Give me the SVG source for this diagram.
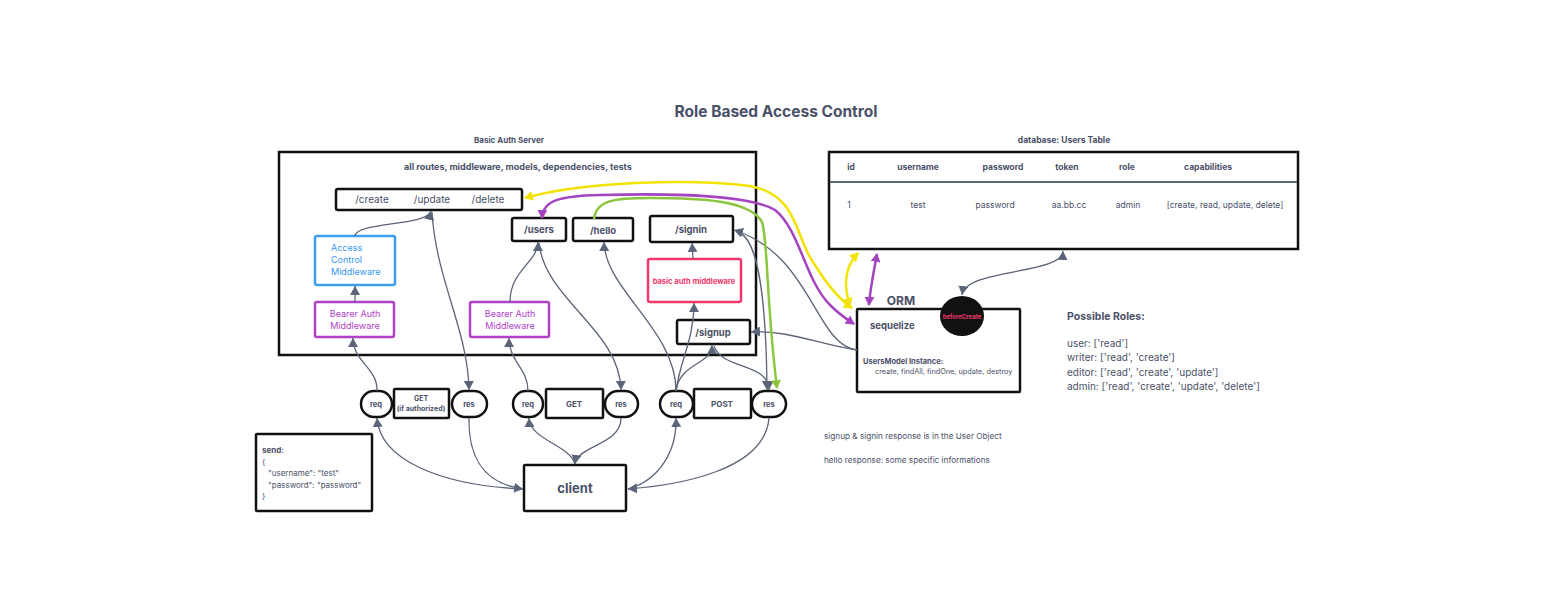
<svg xmlns="http://www.w3.org/2000/svg" width="1555" height="611" viewBox="0 0 1555 611">
<defs>
<style>
text{font-family:Inter,"Noto Sans","Liberation Sans",sans-serif;fill:#4a5068}
.b{font-weight:700}
.box{fill:#fff;stroke:#111;stroke-width:2.5}
.c{fill:none;stroke:#5b6478;stroke-width:1.3}
.m{text-anchor:middle}
</style>
<marker id="ag" markerWidth="10" markerHeight="10" refX="9" refY="5" orient="auto-start-reverse" markerUnits="userSpaceOnUse"><path d="M0,0 L9,5 L0,10 z" fill="#5b6478"/></marker>
<marker id="ay" markerWidth="10" markerHeight="10" refX="8" refY="5" orient="auto-start-reverse" markerUnits="userSpaceOnUse"><path d="M0,0 L9,5 L0,10 z" fill="#f2e400"/></marker>
<marker id="ap" markerWidth="10" markerHeight="10" refX="8" refY="5" orient="auto-start-reverse" markerUnits="userSpaceOnUse"><path d="M0,0 L9,5 L0,10 z" fill="#a444c0"/></marker>
<marker id="agr" markerWidth="10" markerHeight="10" refX="8" refY="5" orient="auto-start-reverse" markerUnits="userSpaceOnUse"><path d="M0,0 L9,5 L0,10 z" fill="#8cc63f"/></marker>
</defs>
<rect width="1555" height="611" fill="#fff"/>
<text x="776" y="117" class="b m" font-size="15.5">Role Based Access Control</text>

<g id="server">
<text x="509" y="143" class="b m" font-size="8">Basic Auth Server</text>
<rect x="279" y="152" width="477" height="203" fill="#fff" stroke="#111" stroke-width="2.5"/>
<text x="518" y="170" class="b m" font-size="9">all routes, middleware, models, dependencies, tests</text>
</g>
<g id="crud"><rect class="box" x="336" y="189" width="186" height="21" rx="2"/>
<text x="372" y="203" class="m" font-size="10">/create</text><text x="432" y="203" class="m" font-size="10">/update</text><text x="488" y="203" class="m" font-size="10">/delete</text></g>
<g id="acm"><rect x="315" y="236" width="80" height="49" rx="2" fill="#fff" stroke="#3d9ef0" stroke-width="2.5"/>
<text x="331" y="251" font-size="9" style="fill:#3597f0">Access</text><text x="331" y="263" font-size="9" style="fill:#3597f0">Control</text><text x="331" y="275" font-size="9" style="fill:#3597f0">Middleware</text></g>
<g id="bearer1"><rect x="315" y="302" width="79" height="35" rx="2" fill="#fff" stroke="#b040c8" stroke-width="2.5"/>
<text x="355" y="317" class="m" font-size="9" style="fill:#b040c8">Bearer Auth</text><text x="355" y="329" class="m" font-size="9" style="fill:#b040c8">Middleware</text></g>
<g id="bearer2"><rect x="470" y="302" width="79" height="35" rx="2" fill="#fff" stroke="#b040c8" stroke-width="2.5"/>
<text x="510" y="317" class="m" font-size="9" style="fill:#b040c8">Bearer Auth</text><text x="510" y="329" class="m" font-size="9" style="fill:#b040c8">Middleware</text></g>
<g id="users"><rect class="box" x="512" y="218" width="54" height="23" rx="2"/><text x="539" y="233" class="b m" font-size="9.5">/users</text></g>
<g id="hello"><rect class="box" x="573" y="218" width="60" height="23" rx="2"/><text x="603" y="234" class="b m" font-size="9.5">/hello</text></g>
<g id="signin"><rect class="box" x="650" y="216" width="83" height="26" rx="2"/><text x="691" y="233" class="b m" font-size="9.5">/signin</text></g>
<g id="basicauth"><rect x="648" y="259" width="93" height="43" rx="2" fill="#fff" stroke="#f0386a" stroke-width="2.5"/><text x="694" y="284" class="b m" font-size="7.5" style="fill:#f0386a">basic auth middleware</text></g>
<g id="signup"><rect class="box" x="677" y="320" width="73" height="24" rx="2"/><text x="713" y="336" class="b m" font-size="9.5">/signup</text></g>

<g id="req1"><rect class="box" x="361" y="391" width="31" height="26" rx="13"/><text x="376" y="407" class="b m" font-size="7.5">req</text></g>
<g id="get1"><rect class="box" x="394" y="389" width="55" height="29" rx="1"/><text x="421" y="401" class="b m" font-size="7">GET</text><text x="421" y="411" class="b m" font-size="7">(if authorized)</text></g>
<g id="res1"><rect class="box" x="452" y="391" width="35" height="26" rx="13"/><text x="469" y="407" class="b m" font-size="7.5">res</text></g>
<g id="req2"><rect class="box" x="513" y="391" width="30" height="26" rx="13"/><text x="528" y="407" class="b m" font-size="7.5">req</text></g>
<g id="get2"><rect class="box" x="546" y="389" width="57" height="29" rx="1"/><text x="574" y="407" class="b m" font-size="8">GET</text></g>
<g id="res2"><rect class="box" x="605" y="391" width="33" height="26" rx="13"/><text x="621" y="407" class="b m" font-size="7.5">res</text></g>
<g id="req3"><rect class="box" x="660" y="391" width="33" height="26" rx="13"/><text x="676" y="407" class="b m" font-size="7.5">req</text></g>
<g id="post"><rect class="box" x="694" y="389" width="57" height="29" rx="1"/><text x="722" y="407" class="b m" font-size="8">POST</text></g>
<g id="res3"><rect class="box" x="752" y="391" width="34" height="26" rx="13"/><text x="769" y="407" class="b m" font-size="7.5">res</text></g>
<g id="client"><rect class="box" x="524" y="465" width="102" height="46" rx="1"/><text x="575" y="493" class="b m" font-size="13">client</text></g>
<g id="send"><rect class="box" x="256" y="434" width="116" height="77" rx="1"/>
<text x="262" y="453" class="b" font-size="8">send:</text>
<text x="262" y="465" font-size="8">{</text>
<text x="268" y="476" font-size="8">"username": "test"</text>
<text x="268" y="488" font-size="8">"password": "password"</text>
<text x="262" y="499" font-size="8">}</text></g>

<g id="db">
<text x="1064" y="143" class="b m" font-size="8.5">database: Users Table</text>
<rect x="829" y="152" width="469" height="97" fill="#fff" stroke="#111" stroke-width="2.5"/>
<line x1="830" y1="182" x2="1297" y2="182" stroke="#5b6478" stroke-width="2"/>
<g class="b" font-size="8.5">
<text x="851" y="170" class="b m">id</text><text x="918" y="170" class="b m">username</text><text x="1003" y="170" class="b m">password</text><text x="1067" y="170" class="b m">token</text><text x="1127" y="170" class="b m">role</text><text x="1208" y="170" class="b m">capabilities</text></g>
<g font-size="8.5">
<text x="849" y="208" class="m">1</text><text x="918" y="208" class="m">test</text><text x="995" y="208" class="m">password</text><text x="1069" y="208" class="m">aa.bb.cc</text><text x="1128" y="208" class="m">admin</text><text x="1225" y="208" class="m">[create, read, update, delete]</text></g>
</g>

<g id="orm">
<text x="901" y="305" class="b m" font-size="12">ORM</text>
<rect class="box" x="857" y="309" width="163" height="83" rx="1"/>
<text x="870" y="329" class="b" font-size="9.5">sequelize</text>
<text x="863" y="364" class="b" font-size="7.5">UsersModel Instance:</text>
<text x="875" y="374" font-size="7.3">create, findAll, findOne, update, destroy</text>
</g>
<g id="beforeCreate"><ellipse cx="962" cy="316" rx="22" ry="20" fill="#111"/><text x="962" y="318.5" class="b m" font-size="6" style="fill:#f0386a">beforeCreate</text></g>

<g id="roles" font-size="10">
<text x="1067" y="320" class="b" font-size="10.5">Possible Roles:</text>
<text x="1067" y="347">user: ['read']</text>
<text x="1067" y="361">writer: ['read', 'create']</text>
<text x="1067" y="376">editor: ['read', 'create', 'update']</text>
<text x="1067" y="390">admin: ['read', 'create', 'update', 'delete']</text>
</g>
<g id="notes" font-size="8.2">
<text x="824" y="439">signup &amp; signin response is in the User Object</text>
<text x="824" y="463">hello response: some specific informations</text>
</g>

<g id="connectors">
<path class="c" marker-end="url(#ag)" d="M377,391 C378,368 353,362 353,338"/>
<path class="c" marker-end="url(#ag)" d="M355,302 L355,286"/>
<path class="c" marker-end="url(#ag)" d="M355,236 C355,222 428,226 431,211"/>
<path class="c" marker-end="url(#ag)" d="M432,212 C436,280 468,330 469,390"/>
<path class="c" marker-end="url(#ag)" d="M522,489 C440,485 380,460 377,418"/>
<path class="c" marker-end="url(#ag)" d="M469,418 C468,470 495,485 523,489"/>
<path class="c" marker-end="url(#ag)" d="M528,391 C528,368 509,362 509,338"/>
<path class="c" marker-end="url(#ag)" d="M510,302 C510,270 538,262 538,242"/>
<path class="c" marker-end="url(#ag)" d="M539,243 C545,300 620,330 621,390"/>
<path class="c" marker-end="url(#ag)" d="M575,464 C570,445 530,440 529,418"/>
<path class="c" marker-end="url(#ag)" d="M621,418 C621,445 578,445 575,464"/>
<path class="c" marker-end="url(#ag)" d="M676,391 C676,330 605,290 604,242"/>
<path class="c" marker-end="url(#ag)" d="M676,391 C680,360 694,340 694,303"/>
<path class="c" marker-end="url(#ag)" d="M676,391 C680,362 712,365 712,345"/>
<path class="c" marker-end="url(#ag)" d="M693,259 L692,243"/>
<path class="c" marker-end="url(#ag)" d="M714,346 C722,370 768,362 769,390"/>
<path class="c" marker-end="url(#ag)" d="M737,232 C755,236 766,280 767,390"/>
<path class="c" marker-end="url(#ag)" d="M857,350 C815,345 812,255 734,230"/>
<path class="c" marker-end="url(#ag)" d="M857,350 C820,345 790,330 751,332"/>
<path class="c" marker-end="url(#ag)" d="M628,489 C660,480 677,450 676,418"/>
<path class="c" marker-end="url(#ag)" d="M769,418 C765,470 680,485 628,489"/>
<path class="c" marker-start="url(#ag)" marker-end="url(#ag)" d="M1063,251 C1062,275 966,268 962,295"/>
<path fill="none" stroke="#f2e400" stroke-width="2.5" marker-start="url(#ay)" marker-end="url(#ay)" d="M525,198 C580,182 690,178 750,186 C800,195 795,240 815,265 C825,282 840,300 852,308"/>
<path fill="none" stroke="#a444c0" stroke-width="2.5" marker-start="url(#ap)" marker-end="url(#ap)" d="M542,218 C543,200 560,196 600,195 C680,193 750,195 775,210 C800,230 805,280 830,305 C840,315 848,320 854,324"/>
<path fill="none" stroke="#8cc63f" stroke-width="2.5" marker-end="url(#agr)" d="M594,219 C596,200 615,198 650,198 C700,198 750,200 762,222 C768,240 766,300 777,388"/>
<path fill="none" stroke="#f2e400" stroke-width="2.5" marker-start="url(#ay)" marker-end="url(#ay)" d="M858,253 C842,270 845,290 850,306"/>
<path fill="none" stroke="#a444c0" stroke-width="2.5" marker-start="url(#ap)" marker-end="url(#ap)" d="M877,254 C873,275 870,290 869,305"/>
</g>
</svg>
